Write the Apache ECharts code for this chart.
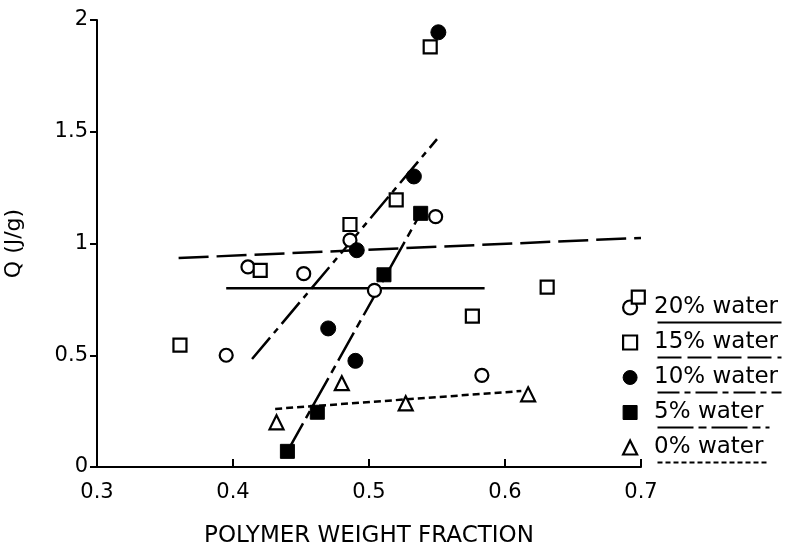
<!DOCTYPE html>
<html>
<head>
<meta charset="utf-8">
<script src="https://cdn.jsdelivr.net/npm/echarts@6/dist/echarts.min.js"></script>
<style>
  html, body { margin: 0; padding: 0; background: #fff; }
  #chart { width: 812px; height: 547px; }
</style>
</head>
<body>
<div id="chart"></div>
<script>
// measured points (polymer weight fraction, Q in J/g)
var water20X = [0.395, 0.411, 0.452, 0.486, 0.504, 0.549, 0.583];
var water20Y = [0.50, 0.895, 0.865, 1.015, 0.79, 1.12, 0.41];
var water15X = [0.361, 0.420, 0.486, 0.520, 0.545, 0.576, 0.631, 0.698];
var water15Y = [0.545, 0.88, 1.085, 1.195, 1.88, 0.675, 0.805, 0.76];
var water10X = [0.470, 0.490, 0.491, 0.533, 0.551];
var water10Y = [0.62, 0.475, 0.97, 1.30, 1.945];
var water5X = [0.440, 0.462, 0.511, 0.538];
var water5Y = [0.07, 0.245, 0.86, 1.135];
var water0X = [0.432, 0.480, 0.527, 0.617];
var water0Y = [0.20, 0.375, 0.285, 0.325];

// fitted lines, end points
var fit20X = [0.395, 0.585], fit20Y = [0.80, 0.80];
var fit15X = [0.36, 0.70], fit15Y = [0.935, 1.025];
var fit10X = [0.414, 0.550], fit10Y = [0.483, 1.467];
var fit5X = [0.44, 0.538], fit5Y = [0.07, 1.135];
var fit0X = [0.431, 0.612], fit0Y = [0.26, 0.34];

var names = ["20% water", "15% water", "10% water", "5% water", "0% water"];
var xTicks = [0.3, 0.4, 0.5, 0.6, 0.7];
var yTicks = [0, 0.5, 1, 1.5, 2];

function pairs(xs, ys) {
  return xs.map(function (x, i) { return [x, ys[i]]; });
}

var font = "DejaVu Sans";
var hollow = { color: "#fff", borderColor: "#000", borderWidth: 2.2, opacity: 1 };
var filled = { color: "#000", borderColor: "#000", borderWidth: 1, opacity: 1 };

function pts(name, xs, ys, symbol, size, style) {
  return {
    name: name, type: "scatter", data: pairs(xs, ys),
    symbol: symbol, symbolSize: size, itemStyle: style, z: 5
  };
}
function fit(name, xs, ys, dash) {
  return {
    name: name, type: "line", data: pairs(xs, ys), symbol: "none",
    lineStyle: { color: "#000", width: 2.5, type: dash }, z: 2, silent: true
  };
}

var chart = echarts.init(document.getElementById("chart"));

// underlines under the legend labels (styles as in the figure)
var ulY = [320, 355, 390, 425, 460];
var ulW = [124, 124, 124, 112, 112];
var ulDash = [null, [24, 6], [22, 5, 6, 5], [36, 5, 8, 5], [5, 3]];
var underlines = ulY.map(function (y, i) {
  return {
    type: "line", left: 655, top: y,
    shape: { x1: 0, y1: 0, x2: ulW[i], y2: 0 },
    style: { stroke: "#000", lineWidth: 2, lineDash: ulDash[i] }
  };
});

var option = {
  animation: false,
  backgroundColor: "#fff",
  textStyle: { fontFamily: font, color: "#000" },
  grid: { left: 97, right: 171, top: 20, bottom: 80, outerBoundsMode: "none" },
  xAxis: {
    type: "value", min: xTicks[0], max: xTicks[xTicks.length - 1], interval: 0.1,
    name: "POLYMER WEIGHT FRACTION", nameLocation: "middle", nameGap: 58,
    nameTextStyle: { fontSize: 23, color: "#000", fontFamily: font },
    axisLine: { lineStyle: { color: "#000", width: 2 } },
    axisTick: { inside: true, length: 8, lineStyle: { color: "#000", width: 2 } },
    axisLabel: { fontSize: 21, color: "#000", margin: 15, fontFamily: font },
    splitLine: { show: false }
  },
  yAxis: {
    type: "value", min: yTicks[0], max: yTicks[yTicks.length - 1], interval: 0.5,
    name: "Q (J/g)", nameLocation: "middle", nameGap: 72, nameRotate: 90,
    nameTextStyle: { fontSize: 22, color: "#000", fontFamily: font },
    axisLine: { show: true, lineStyle: { color: "#000", width: 2 } },
    axisTick: { show: true, length: 7, lineStyle: { color: "#000", width: 2 } },
    axisLabel: { fontSize: 21, color: "#000", margin: 9, fontFamily: font },
    splitLine: { show: false }
  },
  legend: {
    orient: "vertical", left: 622, top: 295, padding: 0,
    itemWidth: 14, itemHeight: 14, itemGap: 10,
    textStyle: { fontSize: 23, color: "#000", fontFamily: font, lineHeight: 25, padding: [0, 0, 0, 12] },
    data: [
      { name: names[0], icon: "circle", itemStyle: hollow },
      { name: names[1], icon: "rect", itemStyle: hollow },
      { name: names[2], icon: "circle", itemStyle: filled },
      { name: names[3], icon: "rect", itemStyle: filled },
      { name: names[4], icon: "triangle", itemStyle: hollow }
    ]
  },
  graphic: underlines,
  series: [
    pts(names[0], water20X, water20Y, "circle", 13, hollow),
    pts(names[1], water15X, water15Y, "rect", 13, hollow),
    pts(names[2], water10X, water10Y, "circle", 15, filled),
    pts(names[3], water5X, water5Y, "rect", 14, filled),
    pts(names[4], water0X, water0Y, "triangle", 14, hollow),
    fit(names[0], fit20X, fit20Y, "solid"),
    fit(names[1], fit15X, fit15Y, [30, 8]),
    fit(names[2], fit10X, fit10Y, [28, 6, 6, 6]),
    fit(names[3], fit5X, fit5Y, [32, 6, 8, 6]),
    fit(names[4], fit0X, fit0Y, [7, 4])
  ]
};
chart.setOption(option);
</script>
</body>
</html>
